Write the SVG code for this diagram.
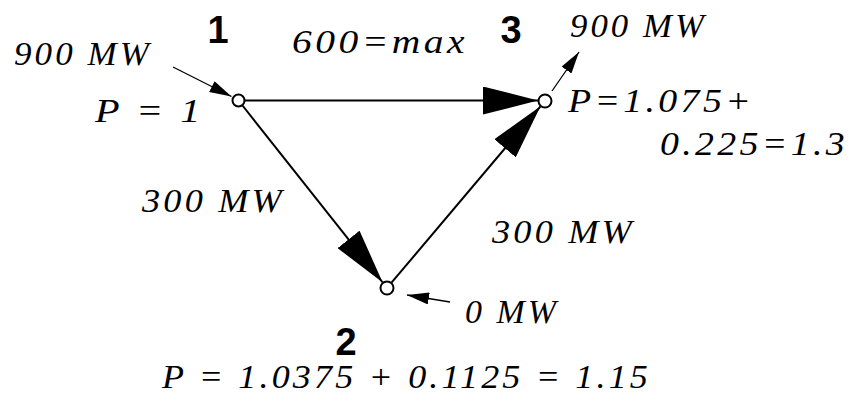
<svg xmlns="http://www.w3.org/2000/svg" width="851" height="403" viewBox="0 0 851 403">
<style>
.lbl{font-family:"Liberation Serif","Times New Roman",serif;font-style:italic;font-size:34px;letter-spacing:3px;fill:#000}
.num{font-family:"Liberation Sans",Arial,sans-serif;font-weight:bold;font-size:38px;fill:#000;text-anchor:middle}
.edge{stroke:#000;stroke-width:2;fill:none}
.thin{stroke:#000;stroke-width:1.3;fill:none}
.node{fill:#fff;stroke:#000;stroke-width:2}
</style>
<defs>
<marker id="big" markerUnits="userSpaceOnUse" markerWidth="55" markerHeight="28" refX="55" refY="14" orient="auto" viewBox="0 0 55 28">
<path d="M0,0 L55,14 L0,28 z" fill="#000"/>
</marker>
<marker id="small" markerUnits="userSpaceOnUse" markerWidth="22" markerHeight="12" refX="22" refY="6" orient="auto" viewBox="0 0 22 12">
<path d="M0,0 L22,6 L0,12 z" fill="#000"/>
</marker>
</defs>
<g id="connectors">
<line class="edge" x1="245" y1="100.5" x2="538" y2="100.5" marker-end="url(#big)"/>
<line class="edge" x1="242.5" y1="105.5" x2="382.7" y2="282.5" marker-end="url(#big)"/>
<line class="edge" x1="391.5" y1="282.7" x2="540.5" y2="106.3" marker-end="url(#big)"/>
<line class="thin" x1="173" y1="67" x2="231.5" y2="96.5" marker-end="url(#small)"/>
<line class="thin" x1="552" y1="91" x2="579" y2="52" marker-end="url(#small)"/>
<line class="thin" x1="450" y1="302" x2="407" y2="295" marker-end="url(#small)"/>
</g>
<g id="node1">
<circle class="node" cx="238.5" cy="100.5" r="6"/>
<text class="num" x="218" y="43">1</text>
<text class="lbl" x="14" y="65" textLength="138" lengthAdjust="spacingAndGlyphs">900 MW</text>
<text class="lbl" x="95" y="122" textLength="109" lengthAdjust="spacingAndGlyphs">P = 1</text>
</g>
<g id="node3">
<circle class="node" cx="545" cy="101" r="6.5"/>
<text class="num" x="511" y="43">3</text>
<text class="lbl" x="570" y="37" textLength="137" lengthAdjust="spacingAndGlyphs">900 MW</text>
<text class="lbl" x="568" y="112" textLength="186" lengthAdjust="spacingAndGlyphs">P=1.075+</text>
<text class="lbl" x="660" y="155" textLength="188" lengthAdjust="spacingAndGlyphs">0.225=1.3</text>
</g>
<g id="node2">
<circle class="node" cx="387" cy="288" r="6.5"/>
<text class="num" x="346" y="355">2</text>
<text class="lbl" x="465" y="323" textLength="94" lengthAdjust="spacingAndGlyphs">0 MW</text>
<text class="lbl" x="162" y="388" textLength="489" lengthAdjust="spacingAndGlyphs">P = 1.0375 + 0.1125 = 1.15</text>
</g>
<g id="edge-labels">
<text class="lbl" x="292" y="53" textLength="176" lengthAdjust="spacingAndGlyphs">600=max</text>
<text class="lbl" x="142" y="212" textLength="143" lengthAdjust="spacingAndGlyphs">300 MW</text>
<text class="lbl" x="492" y="243" textLength="143" lengthAdjust="spacingAndGlyphs">300 MW</text>
</g>
</svg>
